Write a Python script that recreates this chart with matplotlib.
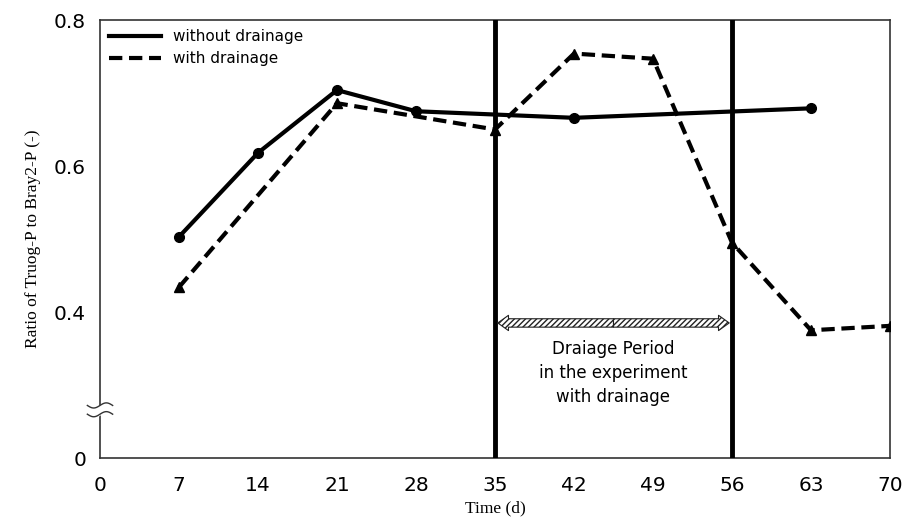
import matplotlib
matplotlib.use("Agg")
import matplotlib.pyplot as plt
import numpy as np
from matplotlib.lines import Line2D
from matplotlib.patches import FancyArrowPatch

# --- data ---
days_without = [7, 14, 21, 28, 42, 63]
ratio_without = [0.503, 0.618, 0.704, 0.675, 0.666, 0.679]

days_with = [7, 21, 35, 42, 49, 56, 63, 70]
ratio_with = [0.434, 0.686, 0.650, 0.754, 0.747, 0.495, 0.375, 0.381]

drain_start, drain_end = 35, 56

x_ticks = [0, 7, 14, 21, 28, 35, 42, 49, 56, 63, 70]
# broken axis: "0" is drawn where 0.2 would sit
y_tick_pos = [0.2, 0.4, 0.6, 0.8]
y_tick_labels = ["0", "0.4", "0.6", "0.8"]

sans = ["DejaVu Sans"]
serif = ["Liberation Serif", "DejaVu Serif"]

fig = plt.figure(figsize=(9.14, 5.27), dpi=100)
ax = fig.add_axes([100 / 914, 69 / 527, 790 / 914, 438 / 527])

ax.plot(days_without, ratio_without, color="black", lw=3, marker="o",
        markersize=7, zorder=4)
ax.plot(days_with, ratio_with, color="black", lw=3, ls=(0, (3.2, 1.6)),
        marker="^", markersize=7.5, zorder=4)

# drainage period boundaries
for d in (drain_start, drain_end):
    ax.axvline(d, color="black", lw=3.5, zorder=3)

# hatched double arrow: two halves pointing outward from the middle
mid = (drain_start + drain_end) / 2
for end in (drain_start, drain_end):
    arr = FancyArrowPatch((mid, 0.385), (end, 0.385), shrinkA=0, shrinkB=2,
                          arrowstyle="simple,head_length=0.7,head_width=1.0,tail_width=0.55",
                          mutation_scale=11, facecolor="white", edgecolor="#222222",
                          hatch="//////", lw=0.8, zorder=5)
    ax.add_patch(arr)
ax.text(mid, 0.362, "Draiage Period\nin the experiment\nwith drainage",
        ha="center", va="top", fontsize=12, family=sans, linespacing=1.45)

ax.set_xlim(0, 70)
ax.set_ylim(0.2, 0.8)
ax.set_xticks(x_ticks)
ax.set_yticks(y_tick_pos)
ax.set_yticklabels(y_tick_labels)
ax.tick_params(length=0, labelsize=14.5, pad=10)
ax.tick_params(axis="x", pad=13)
for lab in ax.get_xticklabels() + ax.get_yticklabels():
    lab.set_family(sans)

for sp in ax.spines.values():
    sp.set_color("#333333")
    sp.set_linewidth(1.2)

ax.set_xlabel("Time (d)", family=serif, fontsize=12.5, labelpad=4)
ax.set_ylabel("Ratio of Truog-P to Bray2-P (-)", family=serif, fontsize=12.5,
              labelpad=9)

# axis break symbol
brk_y = 0.266
t = np.linspace(-0.016, 0.016, 40)
wave = 0.0035 * np.sin(t / 0.016 * np.pi)
trans = ax.get_yaxis_transform()
ax.fill_between(t, brk_y - 0.006 + wave, brk_y + 0.006 + wave, color="white",
                transform=trans, clip_on=False, zorder=6)
for off in (-0.006, 0.006):
    ax.plot(t, brk_y + off + wave, color="#333333", lw=1, transform=trans,
            clip_on=False, zorder=7)

handles = [Line2D([], [], color="black", lw=3),
           Line2D([], [], color="black", lw=3, ls=(0, (3.2, 1.6)))]
leg = ax.legend(handles, ["without drainage", "with drainage"], loc="upper left",
                frameon=False, handlelength=3.4, borderaxespad=0.2,
                prop={"family": sans, "size": 11}, labelspacing=0.45)

fig.savefig("out.png", dpi=100)
